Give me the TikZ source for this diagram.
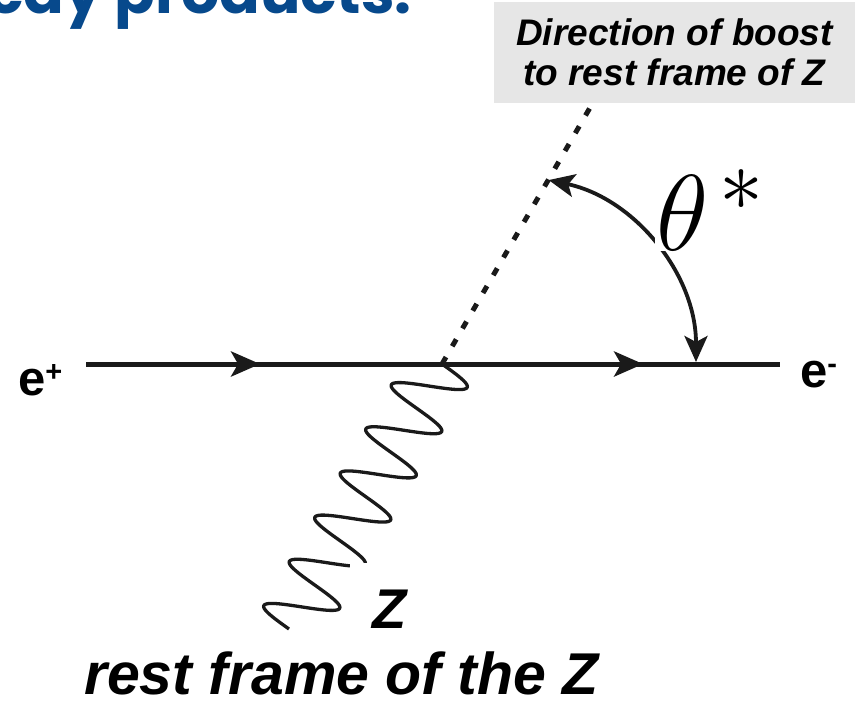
\RequirePackage{fix-cm}
\documentclass[tikz,border=0pt]{standalone}
\usepackage{fontspec}
\newfontfamily\arial{Liberation Sans}
\newfontfamily\titlefont{Poppins}
\usetikzlibrary{arrows.meta,decorations.markings}
\definecolor{titleblue}{RGB}{7,73,140}
\definecolor{boxgray}{RGB}{230,230,230}
\definecolor{ink}{RGB}{26,26,26}
\begin{document}
\begin{tikzpicture}[x=1pt,y=-1pt,
  fermion/.style={line width=5pt, draw=ink},
  fermarrow/.style={postaction={decorate},
    decoration={markings, mark=at position #1 with
      {\arrow{Stealth[length=29pt,width=25pt,inset=7pt]}}}},
  boostline/.style={line width=5pt, draw=ink, dash pattern=on 8pt off 12.5pt},
  zline/.style={line width=3.3pt, draw=ink, line join=round},
  anglearc/.style={line width=3.8pt, draw=ink,
    {Stealth[length=26pt,width=23pt,inset=6pt]}-{Stealth[length=26pt,width=23pt,inset=6pt]}},
  boostbox/.style={fill=boxgray, inner sep=0pt, minimum width=361pt, minimum height=101pt,
    align=center, font=\arial\bfseries\itshape\fontsize{37}{40}\selectfont},
  lepton/.style={inner sep=0pt, font=\arial\bfseries\fontsize{49}{50}\selectfont},
  bigital/.style={font=\arial\bfseries\itshape\fontsize{59}{60}\selectfont},
]
\useasboundingbox (0,0) rectangle (855,701);
\fill[white] (0,0) rectangle (855,701);

% title (cut off at top)
\node[anchor=base east, inner sep=0pt, text=titleblue,
      font=\titlefont\bfseries\fontsize{60}{64}\selectfont] (title) at (412,14) {Decay products:};

% box
\node[boostbox] (box) at (674.5,52.5) {Direction of boost\\to rest frame of Z};

% coordinates
\coordinate (L) at (86,364);
\coordinate (V) at (442,364);
\coordinate (R) at (780,364);
\coordinate (B) at (592.7,103);
\coordinate (A0) at (696,362);

% fermion line
\draw[fermion, fermarrow=0.489] (L) -- (V);
\draw[fermion, fermarrow=0.595] (V) -- (R);

% boost direction
\draw[boostline] (V) -- (B);

% Z boson wave
\draw[zline, shift={(V)}] plot[samples=320, domain=0:306, variable=\s]
  ({-0.5*\s+31.5*sin(7.0588*\s)}, {0.866*\s+12.5*sin(7.0588*\s)});

% angle arc
\draw[anglearc] (A0) arc[start angle=0, end angle=-78, radius=186];

% labels
\node[anchor=base west, inner sep=1pt, fill=white, font=\fontsize{108}{110}\selectfont] (theta) at (655,250)
  {$\theta$\hspace{11pt}\raisebox{40pt}{\fontsize{88}{88}\selectfont$*$}};
\node[lepton, anchor=base west] (ep) at (18,395) {e\raisebox{14pt}{\fontsize{29}{29}\selectfont +}};
\node[lepton, anchor=base west] (em) at (800,387) {e\raisebox{14pt}{\fontsize{29}{29}\selectfont -}};
\node[anchor=base, fill=white, inner xsep=23pt, inner ysep=26pt, font=\arial\bfseries\itshape\fontsize{56}{60}\selectfont] (Z) at (390,628) {Z};
\node[bigital, anchor=base west, inner sep=0pt] (rf) at (84,694) {rest frame of the Z};
\end{tikzpicture}
\end{document}
